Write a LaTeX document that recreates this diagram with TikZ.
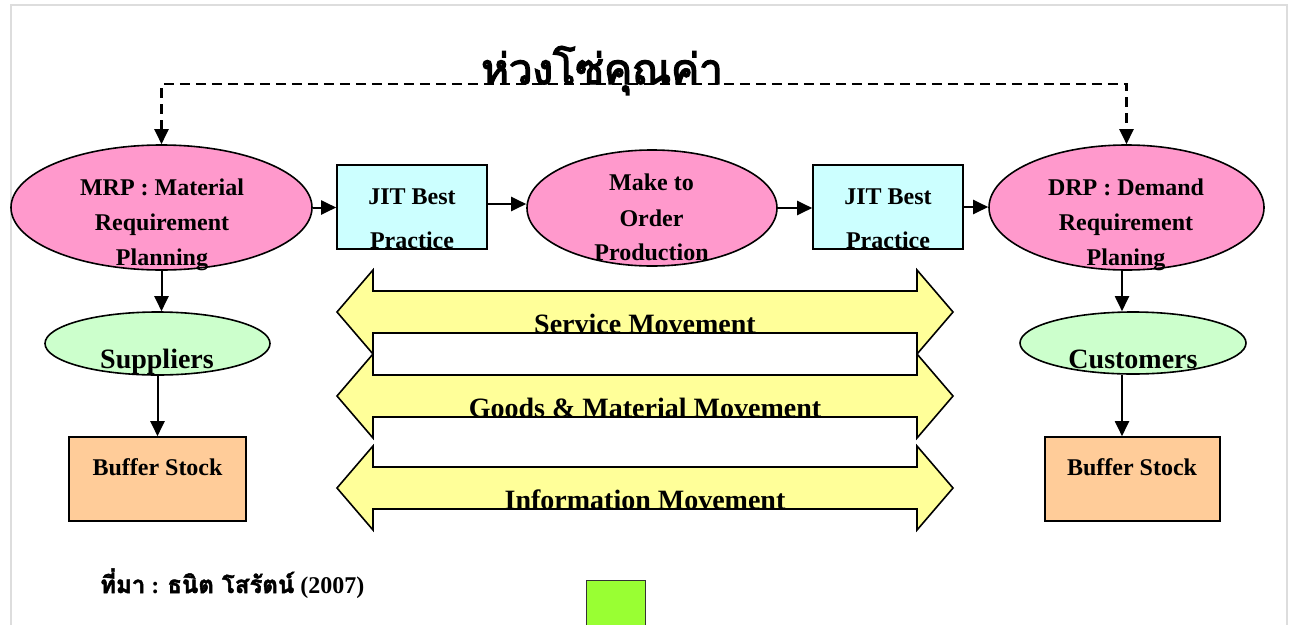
\documentclass[tikz,border=0pt]{standalone}
\usepackage{fontspec}
\setmainfont{Liberation Serif}
\newfontfamily\thaifont[Script=Thai, FakeBold=2]{Loma}
\newfontfamily\thaititle[Script=Thai, FakeBold=3.5]{Loma}
\usetikzlibrary{arrows.meta,shapes.geometric}
\definecolor{pinkc}{HTML}{FF99CC}
\definecolor{cyanc}{HTML}{CCFFFF}
\definecolor{greenc}{HTML}{CCFFCC}
\definecolor{peachc}{HTML}{FFCC99}
\definecolor{yellowc}{HTML}{FFFF99}
\definecolor{limec}{HTML}{99FF33}
\definecolor{framec}{HTML}{DDDDDD}
\tikzset{
  ell/.style={ellipse, draw=black, line width=1.6pt, inner sep=0pt},
  rbox/.style={rectangle, draw=black, line width=1.6pt, inner sep=0pt},
  lbl/.style={font=\bfseries\fontsize{24}{28}\selectfont, anchor=base, inner sep=0pt},
  biglbl/.style={font=\bfseries\fontsize{28}{32}\selectfont, anchor=base, inner sep=0pt},
  conn/.style={line width=2pt, -{Triangle[length=15pt,width=14pt]}},
  dconn/.style={line width=2.2pt, dash pattern=on 10pt off 6pt, {Triangle[length=15pt,width=14pt]}-{Triangle[length=15pt,width=14pt]}},
  yarrow/.style={fill=yellowc, draw=black, line width=1.6pt, line join=miter}
}
\begin{document}
\begin{tikzpicture}[x=1pt,y=-1pt]
\useasboundingbox (0,0) rectangle (1292,624);
\clip (0,0) rectangle (1292,624);
\fill[white] (0,0) rectangle (1292,624);
\draw[framec, line width=2pt] (11,640) -- (11,5) -- (1287,5) -- (1287,640);

% title
\coordinate (top) at (0,84);
\node[font=\thaititle\fontsize{42}{48}\selectfont, anchor=base, inner sep=0pt] (title) at (602,84) {ห่วงโซ่คุณค่า};

% main row
\node[ell, fill=pinkc, minimum width=301pt, minimum height=125pt] (mrp) at (161.5,207.5) {};
\node[rbox, fill=cyanc, minimum width=150pt, minimum height=84pt] (jit1) at (412,207) {};
\node[ell, fill=pinkc, minimum width=250pt, minimum height=116pt] (mto) at (652,208) {};
\node[rbox, fill=cyanc, minimum width=150pt, minimum height=84pt] (jit2) at (888,207) {};
\node[ell, fill=pinkc, minimum width=275pt, minimum height=125pt] (drp) at (1126.5,207.5) {};

\node[lbl] (mrpa) at (162,195) {MRP : Material};
\node[lbl] (mrpb) at (162,230) {Requirement};
\node[lbl] (mrpc) at (162,265) {Planning};
\node[lbl] (jit1a) at (412,204) {JIT Best};
\node[lbl] (jit1b) at (412,248) {Practice};
\node[lbl] (mtoa) at (651.5,190) {Make to};
\node[lbl] (mtob) at (651.5,226) {Order};
\node[lbl] (mtoc) at (651.5,260) {Production};
\node[lbl] (jit2a) at (888,204) {JIT Best};
\node[lbl] (jit2b) at (888,248) {Practice};
\node[lbl] (drpa) at (1126,195) {DRP : Demand};
\node[lbl] (drpb) at (1126,230) {Requirement};
\node[lbl] (drpc) at (1126,265) {Planing};

% side columns
\node[ell, fill=greenc, minimum width=225pt, minimum height=63pt] (sup) at (157.5,343.5) {};
\node[biglbl] (supt) at (157,368) {Suppliers};
\node[ell, fill=greenc, minimum width=226pt, minimum height=62pt] (cus) at (1133,343) {};
\node[biglbl] (cust) at (1133,368) {Customers};
\node[rbox, fill=peachc, minimum width=177pt, minimum height=84pt] (buf1) at (157.5,479) {};
\node[lbl] (buf1t) at (157.5,475) {Buffer Stock};
\node[rbox, fill=peachc, minimum width=175pt, minimum height=84pt] (buf2) at (1132.5,479) {};
\node[lbl] (buf2t) at (1132,475) {Buffer Stock};

% connectors
\draw[conn] (mrp.east) -- (mrp.east -| jit1.west);
\draw[conn] ([yshift=3pt]jit1.east) -- ([yshift=3pt]jit1.east -| mto.west);
\draw[conn] (mto.east) -- (mto.east -| jit2.west);
\draw[conn] (jit2.east) -- (jit2.east -| drp.west);
\draw[conn] (mrp.south) -- (mrp.south |- sup.north);
\draw[conn] (sup.south) -- (sup.south |- buf1.north);
\draw[conn] ([xshift=-4.5pt]drp.south) -- ([xshift=-4.5pt]drp.south |- cus.north);
\draw[conn] ([xshift=-11pt]cus.south) -- ([xshift=-11pt]cus.south |- buf2.north);
\draw[dconn] (mrp.north) -- (mrp.north |- top) -| (drp.north);

% movement arrows
\foreach \ty/\txt [count=\i] in {312/{Service Movement}, 396/{Goods \& Material Movement}, 488/{Information Movement}} {
  \draw[yarrow] (337,\ty) -- (373,\ty-42) -- (373,\ty-21) -- (917,\ty-21) -- (917,\ty-42) -- (953,\ty)
     -- (917,\ty+42) -- (917,\ty+21) -- (373,\ty+21) -- (373,\ty+42) -- cycle;
  \begin{scope}
    \clip (337,\ty) -- (373,\ty-42) -- (373,\ty-21) -- (917,\ty-21) -- (917,\ty-42) -- (953,\ty)
     -- (917,\ty+42) -- (917,\ty+21) -- (373,\ty+21) -- (373,\ty+42) -- cycle;
    \node[biglbl] (mv\i) at (645,\ty+21) {\txt};
  \end{scope}
}

% source
\node[font=\bfseries\fontsize{24}{28}\selectfont, anchor=base west, inner sep=0pt] (src) at (100,593)
  {{\thaifont ที่มา} : {\thaifont ธนิต}\hspace{8pt}{\thaifont โสรัตน์} (2007)};

% green box
\node[rbox, draw=black!80, line width=1.4pt, fill=limec, minimum width=59pt, minimum height=60pt, anchor=north west] (gbox) at (586,580) {};
\end{tikzpicture}
\end{document}
